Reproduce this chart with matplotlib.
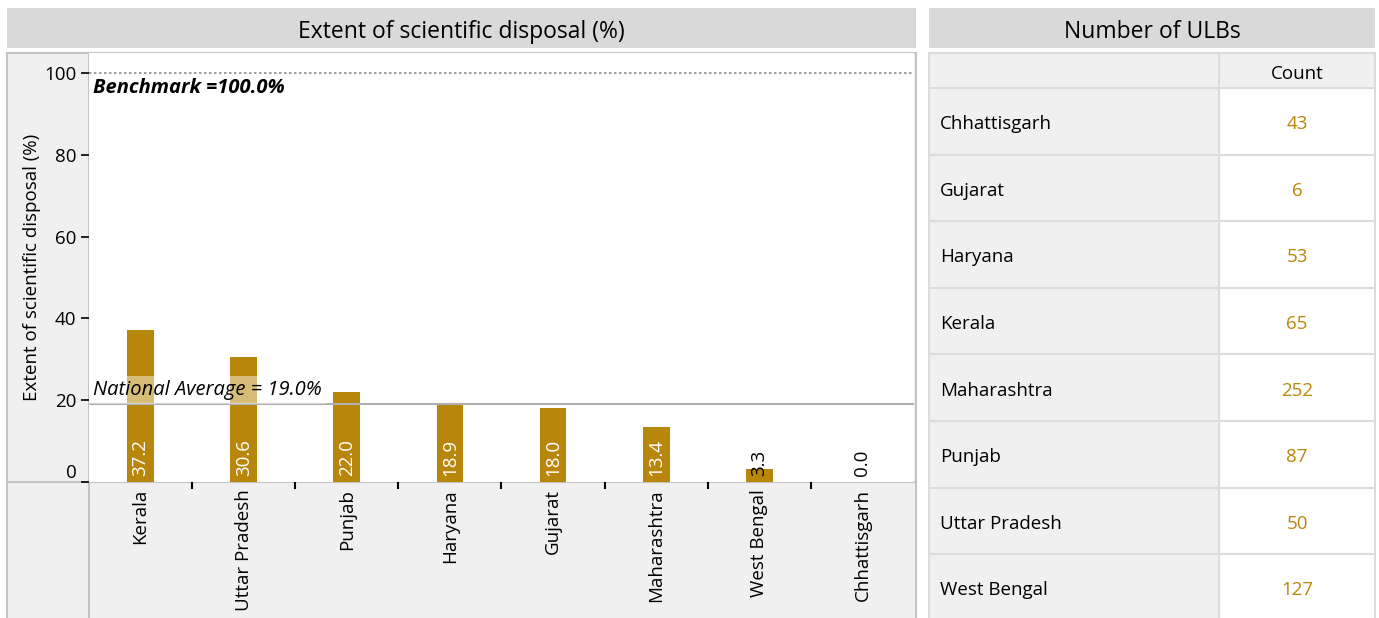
import matplotlib
matplotlib.use('Agg')
import matplotlib.pyplot as plt
from matplotlib.patches import Rectangle

plt.rcParams['font.family'] = ['Open Sans', 'DejaVu Sans']

# bar chart data
states = ['Kerala', 'Uttar Pradesh', 'Punjab', 'Haryana', 'Gujarat',
          'Maharashtra', 'West Bengal', 'Chhattisgarh']
disposal = [37.2, 30.6, 22.0, 18.9, 18.0, 13.4, 3.3, 0.0]
national_avg = 19.0
benchmark = 100.0

# table data
table_states = ['Chhattisgarh', 'Gujarat', 'Haryana', 'Kerala', 'Maharashtra',
                'Punjab', 'Uttar Pradesh', 'West Bengal']
table_counts = [43, 6, 53, 65, 252, 87, 50, 127]

W, H = 1379, 618
GOLD = '#b8860b'
BORDER = '#c4c4c4'
PANEL = '#f0f0f0'
BAND = '#d9d9d9'
FS = 13.5

fig = plt.figure(figsize=(W / 100, H / 100), dpi=100)


def px_axes(x0, y0, x1, y1, **kw):
    return fig.add_axes([x0 / W, 1 - y1 / H, (x1 - x0) / W, (y1 - y0) / H], **kw)


# background layer in pixel coords
bg = px_axes(0, 0, W, H)
bg.set_xlim(0, W)
bg.set_ylim(H, 0)
bg.axis('off')

# title bands
bg.add_patch(Rectangle((7, 8), 909, 40, color=BAND, lw=0))
bg.text(461, 29, 'Extent of scientific disposal (%)', ha='center', va='center_baseline', fontsize=16.5)
bg.add_patch(Rectangle((929, 8), 446, 40, color=BAND, lw=0))
bg.text(1152, 29, 'Number of ULBs', ha='center', va='center_baseline', fontsize=16.5)

# chart frame
bg.add_patch(Rectangle((7, 53), 909, 570, facecolor=PANEL, edgecolor=BORDER, lw=1.5))
bg.plot([89, 89], [53, 618], color=BORDER, lw=1.5)
bg.plot([7, 916], [482, 482], color=BORDER, lw=1.5)

# table
col_split = 1219
tx0, tx1 = 929, 1375
bg.add_patch(Rectangle((tx0, 53), col_split - tx0, 570, facecolor=PANEL, edgecolor='none'))
bg.add_patch(Rectangle((col_split, 88), tx1 - col_split, 540, facecolor='white', edgecolor='none'))
bg.add_patch(Rectangle((col_split, 53), tx1 - col_split, 35, facecolor=PANEL, edgecolor='none'))
bg.text((col_split + tx1) / 2, 72, 'Count', ha='center', va='center_baseline', fontsize=FS)
row_h = 66.6
for i, (st, cnt) in enumerate(zip(table_states, table_counts)):
    y_top = 88 + i * row_h
    yc = y_top + row_h / 2 + 1
    bg.text(940, yc, st, ha='left', va='center_baseline', fontsize=FS)
    bg.text((col_split + tx1) / 2, yc, str(cnt), ha='center', va='center_baseline', fontsize=FS, color=GOLD)
    bg.plot([tx0, tx1], [y_top, y_top], color='#dcdcdc', lw=1.5)
bg.plot([tx0, tx1], [53, 53], color='#dcdcdc', lw=1.5)
for xv in (tx0, col_split, tx1):
    bg.plot([xv, xv], [53, 618], color='#dcdcdc', lw=1.5)

# bar chart
ax = px_axes(89, 53, 914, 482)
ax.set_facecolor('white')
x = list(range(len(states)))
ax.bar(x, disposal, width=0.26, color=GOLD, zorder=2)
ax.set_xlim(-0.5, len(states) - 0.5)
ax.set_ylim(0, 104.9)

ax.axhline(benchmark, color='#a0a0a0', lw=1.5, ls=(0, (1.2, 1.2)), zorder=1)
ax.text(-0.46, benchmark - 1.2, 'Benchmark =%.1f%%' % benchmark, ha='left', va='top',
        fontsize=14.5, fontweight='bold', fontstyle='italic', zorder=4)
ax.axhline(national_avg, color='#b0b0b0', lw=1.5, zorder=3)
ax.text(-0.46, national_avg + 1.0, 'National Average = %.1f%%' % national_avg, ha='left', va='bottom',
        fontsize=14.5, fontstyle='italic', zorder=4,
        bbox=dict(facecolor='white', edgecolor='none', alpha=0.45, pad=3))

for xi, v in zip(x, disposal):
    ax.annotate('%.1f' % v, (xi, 0), xytext=(0, 4), textcoords='offset points',
                rotation=90, ha='center', va='bottom', fontsize=FS,
                color='white' if v > 8 else 'black', zorder=5)

for s in ax.spines.values():
    s.set_visible(False)

ax.set_yticks([0, 20, 40, 60, 80, 100])
ax.tick_params(axis='y', length=6, width=1.2, labelsize=FS, pad=3)
ax.get_yticklabels()[0].set_va('bottom')
ax.set_xticks(x)
ax.set_xticklabels(states, rotation=90, fontsize=FS)
ax.tick_params(axis='x', which='major', length=0, pad=5)
ax.set_xticks([i + 0.5 for i in range(len(states) - 1)], minor=True)
ax.tick_params(axis='x', which='minor', length=5, width=1.5, direction='out')
ax.set_ylabel('Extent of scientific disposal (%)', fontsize=FS, labelpad=2)

fig.savefig('out.png', dpi=100)
